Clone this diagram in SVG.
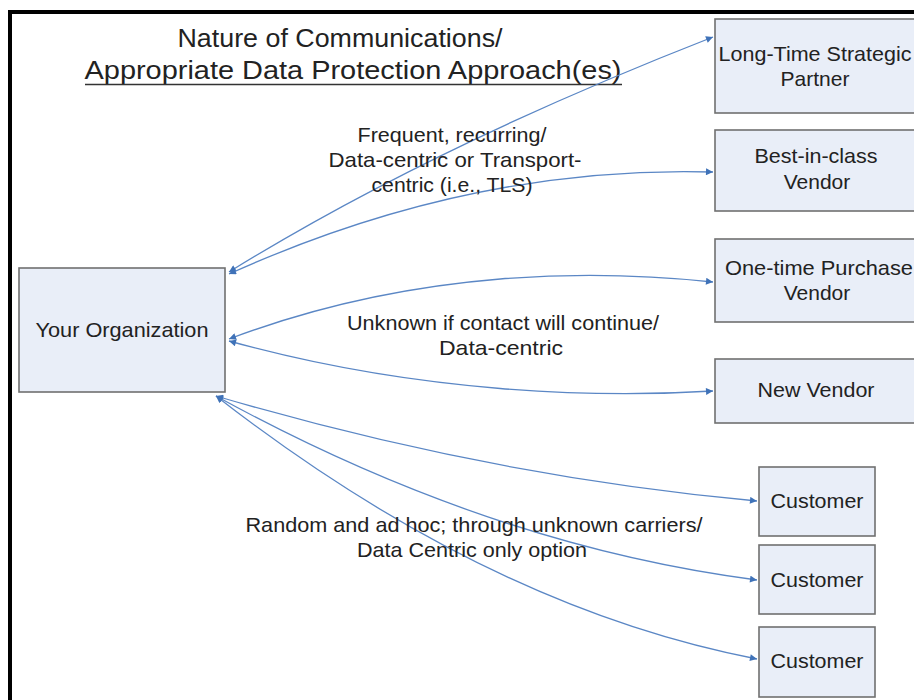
<svg xmlns="http://www.w3.org/2000/svg" width="914" height="700" viewBox="0 0 914 700">
<defs>
<style>
.box{fill:#e9eef8;stroke:#707070;stroke-width:1.6}
.t{font-family:"Liberation Sans",Arial,sans-serif;font-size:21px;fill:#222;text-anchor:middle}
.title{font-family:"Liberation Sans",Arial,sans-serif;font-size:26px;fill:#222;text-anchor:middle}
.c{fill:none;stroke:#5b87c5;stroke-width:1.3}
</style>
<marker id="ah" viewBox="0 0 10 10" refX="10" refY="5" markerWidth="8" markerHeight="7" markerUnits="userSpaceOnUse" orient="auto-start-reverse">
<path d="M0 0 L10 5 L0 10 z" fill="#3f72b8"/>
</marker>
</defs>
<rect width="914" height="700" fill="#fff"/>
<path d="M10 700 V12 H914" fill="none" stroke="#000" stroke-width="4"/>
<g id="title">
<text class="title" x="340" y="47" textLength="325" lengthAdjust="spacingAndGlyphs">Nature of Communications/</text>
<text class="title" x="353" y="79" textLength="537" lengthAdjust="spacingAndGlyphs">Appropriate Data Protection Approach(es)</text>
<line x1="85" y1="84.5" x2="622" y2="84.5" stroke="#333" stroke-width="1.6"/>
</g>
<g id="connectors">
<path class="c" d="M713 37 Q429 148 229 272" marker-start="url(#ah)" marker-end="url(#ah)"/>
<path class="c" d="M713 172 Q471 165 229 274" marker-start="url(#ah)" marker-end="url(#ah)"/>
<path class="c" d="M713 282 C600 270 420 267 229 339" marker-start="url(#ah)" marker-end="url(#ah)"/>
<path class="c" d="M713 391 C600 398 420 394 229 341" marker-start="url(#ah)" marker-end="url(#ah)"/>
<path class="c" d="M757 501 Q487 476 216 396" marker-start="url(#ah)" marker-end="url(#ah)"/>
<path class="c" d="M757 580 Q487 545 216 396" marker-start="url(#ah)" marker-end="url(#ah)"/>
<path class="c" d="M757 659 Q487 607 216 396" marker-start="url(#ah)" marker-end="url(#ah)"/>
</g>
<g id="label-frequent">
<text class="t" x="452" y="142" textLength="189" lengthAdjust="spacingAndGlyphs">Frequent, recurring/</text>
<text class="t" x="455" y="167" textLength="253" lengthAdjust="spacingAndGlyphs">Data-centric or Transport-</text>
<text class="t" x="452" y="192" textLength="161" lengthAdjust="spacingAndGlyphs">centric (i.e., TLS)</text>
</g>
<g id="label-unknown">
<text class="t" x="503" y="330" textLength="312" lengthAdjust="spacingAndGlyphs">Unknown if contact will continue/</text>
<text class="t" x="501" y="355" textLength="124" lengthAdjust="spacingAndGlyphs">Data-centric</text>
</g>
<g id="label-random">
<text class="t" x="474" y="532" textLength="457" lengthAdjust="spacingAndGlyphs">Random and ad hoc; through unknown carriers/</text>
<text class="t" x="472" y="557" textLength="230" lengthAdjust="spacingAndGlyphs">Data Centric only option</text>
</g>
<g id="your-organization">
<rect class="box" x="19" y="268" width="206" height="124"/>
<text class="t" x="122" y="337" textLength="173" lengthAdjust="spacingAndGlyphs">Your Organization</text>
</g>
<g id="long-time-strategic-partner">
<rect class="box" x="715" y="19" width="205" height="94"/>
<text class="t" x="815" y="61" textLength="193" lengthAdjust="spacingAndGlyphs">Long-Time Strategic</text>
<text class="t" x="815" y="86">Partner</text>
</g>
<g id="best-in-class-vendor">
<rect class="box" x="715" y="130" width="205" height="81"/>
<text class="t" x="816" y="163" textLength="123" lengthAdjust="spacingAndGlyphs">Best-in-class</text>
<text class="t" x="817" y="189">Vendor</text>
</g>
<g id="one-time-purchase-vendor">
<rect class="box" x="715" y="239" width="205" height="83"/>
<text class="t" x="819" y="275" textLength="188" lengthAdjust="spacingAndGlyphs">One-time Purchase</text>
<text class="t" x="817" y="300">Vendor</text>
</g>
<g id="new-vendor">
<rect class="box" x="715" y="359" width="205" height="64"/>
<text class="t" x="816" y="397" textLength="117" lengthAdjust="spacingAndGlyphs">New Vendor</text>
</g>
<g id="customer-1">
<rect class="box" x="759" y="467" width="116" height="69"/>
<text class="t" x="817" y="508" textLength="93" lengthAdjust="spacingAndGlyphs">Customer</text>
</g>
<g id="customer-2">
<rect class="box" x="759" y="545" width="116" height="69"/>
<text class="t" x="817" y="587" textLength="93" lengthAdjust="spacingAndGlyphs">Customer</text>
</g>
<g id="customer-3">
<rect class="box" x="759" y="627" width="116" height="70"/>
<text class="t" x="817" y="668" textLength="93" lengthAdjust="spacingAndGlyphs">Customer</text>
</g>
</svg>
